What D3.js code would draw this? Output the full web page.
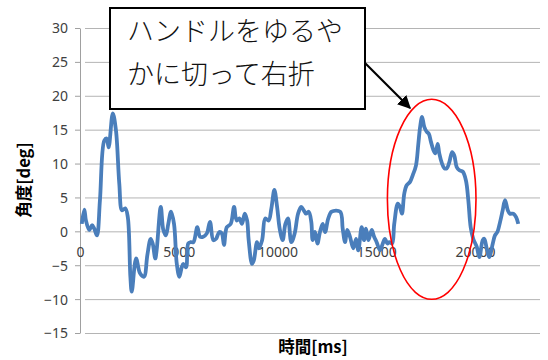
<!DOCTYPE html>
<html>
<head>
<meta charset="utf-8">
<style>
    body { margin: 0; background: #fff; }
    .tick text { font: 14px "Noto Sans", sans-serif; fill: #404040; }
    .title { font: bold 16.5px "Noto Sans CJK JP", sans-serif; fill: #000; }
    .note { font: 300 27px "Noto Sans CJK JP", sans-serif; fill: #111; }
</style>
<script src="https://d3js.org/d3.v7.min.js"></script>
</head>
<body>
<svg width="548" height="360"></svg>
<script>
// time [ms] and steering angle [deg]
var timeMs = [90, 220, 300, 470, 610, 720, 860, 1010, 1230, 1350, 1450, 1660, 1820, 1990, 2130, 2290, 2420, 2550, 2620,
    2840, 3040, 3240, 3410, 3580, 3680, 3810, 3880, 4090, 4220, 4350, 4470, 4610, 4760, 4900, 5030, 5150, 5230, 5370,
    5480, 5600, 5740, 5940, 6080, 6240, 6420, 6580, 6750, 6890, 7050, 7180, 7290, 7430, 7630, 7800, 7930, 8070, 8200,
    8340, 8460, 8540, 8710, 8800, 8960, 9050, 9220, 9380, 9550, 9690, 9840, 9980, 10110, 10260, 10400, 10530, 10700,
    10870, 11040, 11200, 11330, 11440, 11580, 11710, 11780, 11900, 12020, 12150, 12290, 12410, 12570, 12740, 13170,
    13300, 13420, 13530, 13670, 13840, 13980, 14090, 14260, 14380, 14480, 14600, 14770, 14890, 15020, 15190, 15330,
    15440, 15560, 15660, 15800, 15910, 16090, 16200, 16300, 16420, 16540, 16710, 16850, 17010, 17130, 17220, 17320,
    17430, 17550, 17660, 17770, 17890, 17990, 18110, 18190, 18330, 18450, 18570, 18700, 18840, 18950, 19070, 19210,
    19380, 19540, 19660, 19780, 19910, 20090, 20220, 20390, 20470, 20590, 20720, 20900, 21010, 21130, 21270, 21400,
    21520, 21660, 21770, 21940, 22080, 22190];
var angleDeg = [1.1, 3.2, 1.6, 0.2, 0.9, 0.4, -0.6, 4.6, 13.4, 13.7, 12.4, 17.4, 14.9, 7.0, 3.1, 3.4, 2.1, -6.7, -8.9,
    -4.0, -6.2, -6.7, -3.5, -1.1, -1.8, -4.0, -2.8, 3.6, 0.2, -0.6, 1.1, 2.9, 1.1, -4.8, -6.7, -5.3, -4.8, -5.3,
    -1.8, -1.6, -1.6, 0.6, -0.8, -0.8, -0.3, 1.4, -1.3, -1.1, -0.1, -0.3, -2.0, 0.6, 1.1, 3.6, 1.6, 1.9, 1.1,
    2.6, 1.6, -1.3, -4.8, -4.3, -1.6, -2.5, -1.3, 1.9, 1.6, 3.4, 6.1, 3.6, 0.4, -1.3, 1.1, 1.9, -1.6,
    -0.3, 2.6, 3.6, 3.1, 2.6, 2.9, 1.4, -1.3, -0.1, -1.8, -0.1, 1.1, -0.1, 1.9, 2.9, 2.9,
    0.4, -1.6, 0.2, -0.8, -2.5, -1.1, -2.8, 0.6, -1.3, 0.4, -1.3, 0.2, -0.8, -1.6, -2.8, -1.8,
    -1.1, -1.8, -1.6, -1.8, 1.1, 4.1, 3.6, 2.6, 5.6, 6.8, 7.3, 8.3, 9.7, 12.9, 15.4, 16.9,
    15.4, 14.7, 14.4, 13.2, 12.0, 11.5, 12.9, 11.5, 10.0, 9.3, 9.3, 10.2, 11.7, 11.2, 9.5, 9.0,
    8.8, 7.5, 4.6, 0.6, -1.1, -2.3, -3.8, -1.3, -1.1, -2.5, -3.8, -1.8, -0.6, -0.1, 1.4, 3.1,
    4.6, 3.1, 2.6, 2.6, 2.1, 1.1];
var yTicks = [-15, -10, -5, 0, 5, 10, 15, 20, 25, 30];
var xTicks = [0, 5000, 10000, 15000, 20000];
var noteLines = ["ハンドルをゆるや", "かに切って右折"];
var xTitle = "時間[ms]", yTitle = "角度[deg]";

var svg = d3.select("svg");

var x = d3.scaleLinear().domain([0, 23290]).range([80, 540]);
var y = d3.scaleLinear().domain([-15, 30]).range([333, 28]);

// horizontal gridlines + y axis
var yAxis = svg.append("g")
    .attr("transform", "translate(80,0)")
    .call(d3.axisLeft(y).tickValues(yTicks).tickSize(-(540 - 80)).tickSizeOuter(0).tickPadding(12));
yAxis.select(".domain").attr("stroke", "#a0a0a0");
yAxis.selectAll("line").attr("stroke", "#b4b4b4").attr("x1", 5);
yAxis.selectAll(".tick text").attr("dy", "0.35em");
yAxis.selectAll(".tick").append("line")
    .attr("x1", -5).attr("x2", 0).attr("stroke", "#a0a0a0");

// x labels sit under the zero line
var xAxis = svg.append("g")
    .attr("transform", "translate(0," + y(0) + ")")
    .call(d3.axisBottom(x).tickValues(xTicks).tickFormat(d3.format("d")).tickSize(0).tickPadding(16));
xAxis.select(".domain").remove();
xAxis.selectAll(".tick text").attr("fill", "#202020");

// data line
var line = d3.line()
    .x(function (d, i) { return x(timeMs[i]); })
    .y(function (d) { return y(d); })
    .curve(d3.curveCatmullRom);
svg.append("path")
    .attr("d", line(angleDeg))
    .attr("fill", "none")
    .attr("stroke", "#4a7ebb")
    .attr("stroke-width", 3.8)
    .attr("stroke-linejoin", "round");

// axis titles
svg.append("text").attr("class", "title")
    .attr("text-anchor", "middle")
    .attr("transform", "translate(30,180) rotate(-90)")
    .text(yTitle);
svg.append("text").attr("class", "title")
    .attr("text-anchor", "middle")
    .attr("x", 313).attr("y", 353)
    .text(xTitle);

// callout box
svg.append("rect")
    .attr("x", 110).attr("y", 8).attr("width", 255).attr("height", 101)
    .attr("fill", "#fff").attr("stroke", "#000").attr("stroke-width", 2);
svg.selectAll(".note").data(noteLines).enter().append("text")
    .attr("class", "note")
    .attr("x", 127)
    .attr("y", function (d, i) { return 41 + i * 43; })
    .text(function (d) { return d; });

// arrow
svg.append("defs").append("marker")
    .attr("id", "head").attr("viewBox", "0 0 10 10")
    .attr("refX", 9).attr("refY", 5)
    .attr("markerWidth", 6).attr("markerHeight", 6)
    .attr("orient", "auto")
    .append("path").attr("d", "M0,0L10,5L0,10z").attr("fill", "#000");
svg.append("line")
    .attr("x1", 365).attr("y1", 63).attr("x2", 410).attr("y2", 108)
    .attr("stroke", "#000").attr("stroke-width", 2.2)
    .attr("marker-end", "url(#head)");

// red ellipse round the turn
svg.append("ellipse")
    .attr("cx", 431.7).attr("cy", 199.3).attr("rx", 44.3).attr("ry", 100)
    .attr("fill", "none").attr("stroke", "#f00").attr("stroke-width", 1.6);
</script>
</body>
</html>
